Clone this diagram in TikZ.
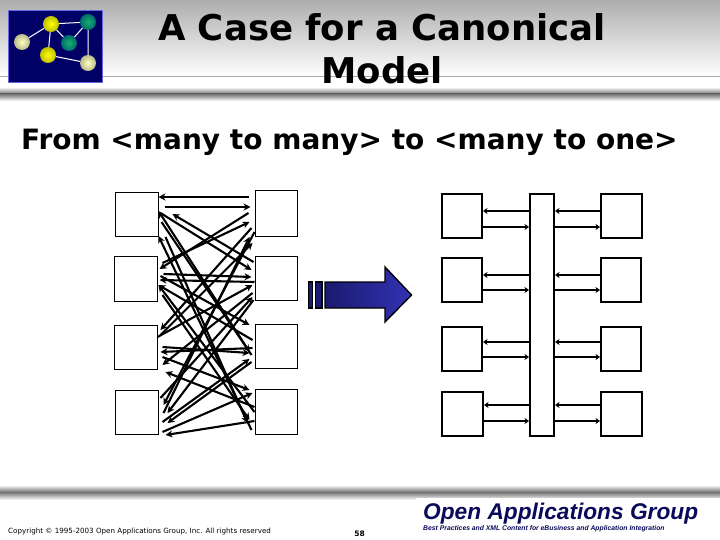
\documentclass[tikz,border=0pt]{standalone}
\usepackage{fontspec}
\setmainfont{DejaVu Sans}
\newfontfamily\logofont{Liberation Sans}
\usetikzlibrary{calc,arrows.meta,shadings}
\definecolor{logoblue}{HTML}{000066}
\definecolor{oagblue}{HTML}{0A0A5A}
\definecolor{arrowdark}{HTML}{1A1A70}
\definecolor{arrowlight}{HTML}{3333B4}
\tikzset{
	box/.style={draw, line width=1pt, fill=white, inner sep=0pt},
	hubbox/.style={draw, line width=2pt, fill=white, inner sep=0pt},
	wire/.style={line width=2.1pt, -{Stealth[length=7pt,width=7pt]}},
	hubwire/.style={line width=2pt, -{Stealth[length=4.5pt,width=6pt]}},
	ball/.style={circle, minimum size=16pt, inner sep=0pt, shading=radial},
	yellowball/.style={ball, inner color=yellow, outer color=yellow!75!black},
	tealball/.style={ball, inner color=teal!70!green!90!white, outer color=teal!85!black},
	paleball/.style={ball, inner color=yellow!25!white, outer color=yellow!40!black!45!white},
}
\begin{document}
\begin{tikzpicture}[x=1pt, y=-1pt]
	\useasboundingbox (0, 0) rectangle (720, 540);
	\fill[white] (0, 0) rectangle (720, 540);

	%%%%% HEADER %%%%%
	\shade[top color=black!32, bottom color=white] (0, 0) rectangle (720, 76);
	\draw[black!35, line width=0.6pt] (0, 76) -- (720, 76);
	\shade[top color=black!8, bottom color=black!55] (0, 88) rectangle (720, 94);
	\shade[top color=black!55, bottom color=white] (0, 94) rectangle (720, 101);

	\node[fill=logoblue, draw=black!20!blue!60, line width=0.7pt, minimum width=94pt, minimum height=72pt, inner sep=0pt] (logo) at (55, 46) {};
	\node[paleball] (b1) at (22, 42) {};
	\node[yellowball] (b2) at (51, 24) {};
	\node[tealball] (b3) at (88, 22) {};
	\node[tealball] (b4) at (69, 43) {};
	\node[yellowball] (b5) at (48, 55) {};
	\node[paleball] (b6) at (88, 63) {};
	\draw[white, line width=1pt] (b1) -- (b2) -- (b3) -- (b4) -- (b2) -- (b5) -- (b6) -- (b3);

	\node[align=center, inner sep=0pt, font=\bfseries\fontsize{35.5}{43}\selectfont] (title) at (382, 48.5) {A Case for a Canonical\\Model};
	\node[anchor=base west, inner sep=0pt, font=\bfseries\fontsize{28}{32}\selectfont] (subtitle) at (21, 150) {From <many to many> to <many to one>};

	%%%%% MANY TO MANY %%%%%
	\node[box, minimum width=43pt, minimum height=43pt] (L1) at (136.5, 214.5) {};
	\node[box, minimum width=43pt, minimum height=45pt] (L2) at (135.5, 278.5) {};
	\node[box, minimum width=43pt, minimum height=44pt] (L3) at (135.5, 347) {};
	\node[box, minimum width=43pt, minimum height=44pt] (L4) at (136.5, 412) {};
	\node[box, minimum width=42pt, minimum height=45pt] (R1) at (276, 213.5) {};
	\node[box, minimum width=42pt, minimum height=44pt] (R2) at (276, 278) {};
	\node[box, minimum width=42pt, minimum height=44pt] (R3) at (276, 346) {};
	\node[box, minimum width=42pt, minimum height=45pt] (R4) at (276, 411.5) {};

	% left to right: from, x, y, to, x, y
	\foreach \a/\ax/\ay/\b/\bx/\by in {
		L1/6/-7.5/R1/-4/-6.5,
		L1/2/-1.5/R2/-3/-8,
		L1/3/7.5/R3/-5/6,
		L1/7/22.5/R4/-7/11.5,
		L2/5/-15.5/R1/-5/8.5,
		L2/6/-4.5/R2/-3/-1,
		L2/3/-2.5/R3/-5/-21,
		L2/5/16.5/R4/-5/8.5,
		L3/3/-12/R1/-2/29.5,
		L3/0/-10/R2/-2/7,
		L3/5/0/R3/-5/7,
		L3/5/10/R4/-5/-21.5,
		L4/5/1/R1/-5/23.5,
		L4/2/-14/R2/-2/19,
		L4/4/10/R3/-5/13,
		L4/4/20/R4/-2/-18.5}
		\draw[wire] ($(\a.east)+(\ax, \ay)$) -- ($(\b.west)+(\bx, \by)$);

	% right to left: from, x, y, to, x, y
	\foreach \b/\bx/\by/\a/\ax/\ay in {
		R1/-6/-16.5/L1/0/-17.5,
		R1/-6/-0.5/L2/2/-9.5,
		R1/-3/14.5/L3/3/-17,
		R1/0/18.5/L4/5/-7,
		R2/-1/-16/L1/14/-0.5,
		R2/0/4/L2/2/1.5,
		R2/-2/15/L3/5/18,
		R2/-1/22/L4/9/1,
		R3/-3/9/L1/0/-3.5,
		R3/-2/-6/L2/1/6.5,
		R3/-2/2/L3/3/5,
		R3/-3/16/L4/9/11,
		R4/-3/18.5/L1/0/21.5,
		R4/0/0.5/L2/1/6.5,
		R4/0/-4.5/L3/8/25,
		R4/0/9.5/L4/7/23}
		\draw[wire] ($(\b.west)+(\bx, \by)$) -- ($(\a.east)+(\ax, \ay)$);

	%%%%% BIG ARROW %%%%%
	\draw[line width=1.4pt, fill=arrowdark] (308.5, 282) rectangle (312.5, 308);
	\draw[line width=1.4pt, fill=arrowdark] (315.5, 282) rectangle (322, 308);
	\draw[line width=1.4pt, left color=arrowdark, right color=arrowlight]
		(325, 282) -- (385, 282) -- (385, 267) -- (411.5, 295) -- (385, 322) -- (385, 308) -- (325, 308) -- cycle;

	%%%%% MANY TO ONE %%%%%
	\node[hubbox, minimum width=24pt, minimum height=242pt] (hub) at (542, 315) {};
	\foreach \i/\yy/\up/\dn/\lw/\rw in {1/216/211/227/40/41, 2/280/275/290/40/40, 3/348.5/342/357/40/40, 4/414/405/421/41/41}
	{
		\node[hubbox, minimum width=\lw pt, minimum height=44pt, anchor=east] (A\i) at (443+\lw, \yy) {};
		\node[hubbox, minimum width=\rw pt, minimum height=44pt, anchor=west] (B\i) at (600, \yy) {};
		\draw[hubwire] (hub.west |- 0, \up) -- (A\i.east |- 0, \up);
		\draw[hubwire] (A\i.east |- 0, \dn) -- (hub.west |- 0, \dn);
		\draw[hubwire] (B\i.west |- 0, \up) -- (hub.east |- 0, \up);
		\draw[hubwire] (hub.east |- 0, \dn) -- (B\i.west |- 0, \dn);
	}

	%%%%% FOOTER %%%%%
	\shade[top color=black!8, bottom color=black!55] (0, 486) rectangle (720, 492);
	\shade[top color=black!55, bottom color=white] (0, 492) rectangle (720, 500);
	\fill[white] (416, 498) rectangle (720, 540);

	\node[anchor=base west, inner sep=0pt, font=\fontsize{7.15}{9}\selectfont] (copyright) at (8, 533) {Copyright © 1995-2003 Open Applications Group, Inc. All rights reserved};
	\node[anchor=base, inner sep=0pt, font=\bfseries\fontsize{7.5}{9}\selectfont] (page) at (359.5, 536) {58};
	\node[anchor=base west, inner sep=0pt, text=oagblue, font=\logofont\bfseries\itshape\fontsize{22.7}{28}\selectfont] (oag) at (423, 519) {Open Applications Group};
	\node[anchor=base west, inner sep=0pt, text=oagblue, font=\logofont\bfseries\itshape\fontsize{6.8}{8}\selectfont] (tagline) at (423, 530) {Best Practices and XML Content for eBusiness and Application Integration};
\end{tikzpicture}
\end{document}
